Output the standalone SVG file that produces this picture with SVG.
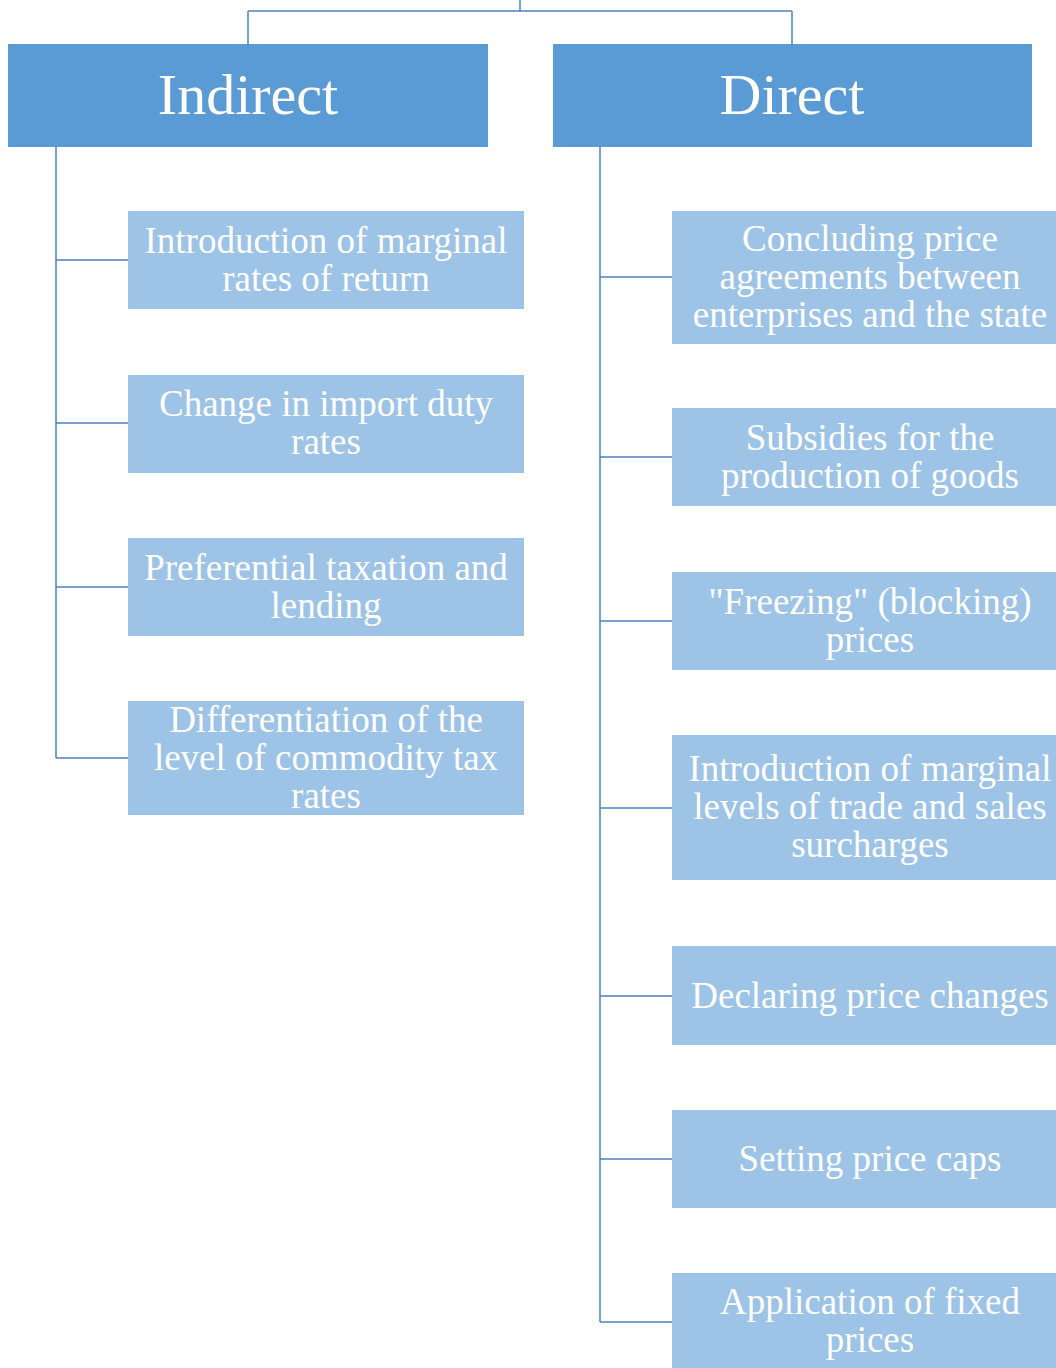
<svg xmlns="http://www.w3.org/2000/svg" width="1056" height="1368" viewBox="0 0 1056 1368">
<style>
.head{fill:#5B9BD5}
.item{fill:#9DC3E6}
.ht{font-family:"Liberation Serif","Times New Roman",serif;font-size:58px;fill:#fff;text-anchor:middle}
.it{font-family:"Liberation Serif","Times New Roman",serif;font-size:37px;fill:#fff;text-anchor:middle}
.ln{fill:none;stroke:#4F81BD;stroke-width:1.5}
</style>
<rect width="1056" height="1368" fill="#fff"/>
<g id="connectors">
<path class="ln" d="M520,0 V11 M248,11 H792 M248,11 V44 M792,11 V44"/>
<path class="ln" d="M56,147 V758 M56,260 H128 M56,423 H128 M56,587 H128 M56,758 H128"/>
<path class="ln" d="M600,147 V1322 M600,277 H672 M600,457 H672 M600,621 H672 M600,808 H672 M600,996 H672 M600,1159 H672 M600,1322 H672"/>
</g>
<g id="indirect"><rect class="head" x="8" y="44" width="480" height="103"/><text class="ht" x="248" y="114">Indirect</text></g>
<g id="direct"><rect class="head" x="553" y="44" width="479" height="103"/><text class="ht" x="792" y="114">Direct</text></g>
<g id="i1"><rect class="item" x="128" y="211" width="396" height="98"/><text class="it" x="326" y="253">Introduction of marginal</text><text class="it" x="326" y="291">rates of return</text></g>
<g id="i2"><rect class="item" x="128" y="375" width="396" height="98"/><text class="it" x="326" y="416">Change in import duty</text><text class="it" x="326" y="454">rates</text></g>
<g id="i3"><rect class="item" x="128" y="538" width="396" height="98"/><text class="it" x="326" y="580">Preferential taxation and</text><text class="it" x="326" y="618">lending</text></g>
<g id="i4"><rect class="item" x="128" y="701" width="396" height="114"/><text class="it" x="326" y="732">Differentiation of the</text><text class="it" x="326" y="770">level of commodity tax</text><text class="it" x="326" y="808">rates</text></g>
<g id="d1"><rect class="item" x="672" y="211" width="396" height="133"/><text class="it" x="870" y="251">Concluding price</text><text class="it" x="870" y="289">agreements between</text><text class="it" x="870" y="327">enterprises and the state</text></g>
<g id="d2"><rect class="item" x="672" y="408" width="396" height="98"/><text class="it" x="870" y="450">Subsidies for the</text><text class="it" x="870" y="488">production of goods</text></g>
<g id="d3"><rect class="item" x="672" y="572" width="396" height="98"/><text class="it" x="870" y="614">"Freezing" (blocking)</text><text class="it" x="870" y="652">prices</text></g>
<g id="d4"><rect class="item" x="672" y="735" width="396" height="145"/><text class="it" x="870" y="781">Introduction of marginal</text><text class="it" x="870" y="819">levels of trade and sales</text><text class="it" x="870" y="857">surcharges</text></g>
<g id="d5"><rect class="item" x="672" y="946" width="396" height="99"/><text class="it" x="870" y="1008">Declaring price changes</text></g>
<g id="d6"><rect class="item" x="672" y="1110" width="396" height="98"/><text class="it" x="870" y="1171">Setting price caps</text></g>
<g id="d7"><rect class="item" x="672" y="1273" width="396" height="98"/><text class="it" x="870" y="1314">Application of fixed</text><text class="it" x="870" y="1352">prices</text></g>
</svg>
